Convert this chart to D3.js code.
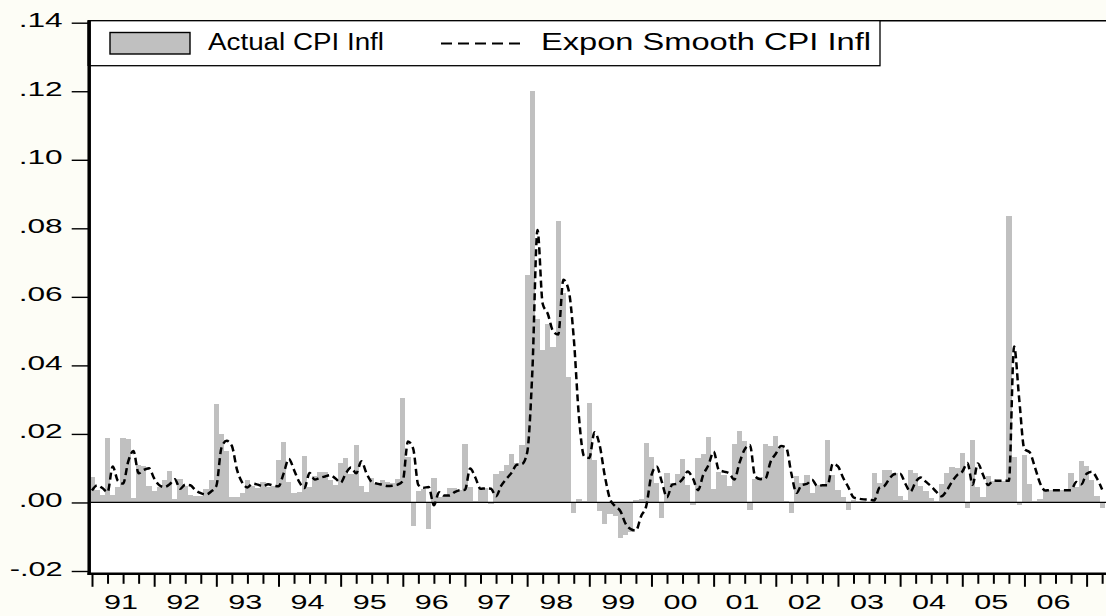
<!DOCTYPE html>
<html><head><meta charset="utf-8">
<script src="https://cdn.jsdelivr.net/npm/d3@7"></script>
<style>
html,body{margin:0;padding:0;background:#FDFDF6;}
svg{display:block;}
text{font-family:"Liberation Sans",Arial,sans-serif;fill:#000;}
</style></head><body>
<svg id="chart" width="1106" height="616"></svg>
<script>
// ---- data (monthly, 1991M1 .. 2007M4) ----
const yearLabels = ["91","92","93","94","95","96","97","98","99","00","01","02","03","04","05","06"];

const actualCPI = [
  // 1991
  0.0073,0.0035,0.0022,0.0187,0.0022,0.0046,0.0188,0.0185,0.0012,0.0108,0.0106,0.0048,
  // 1992
  0.0033,0.0045,0.0065,0.0091,0.0010,0.0069,0.0048,0.0023,0.0020,0.0018,0.0040,0.0067,
  // 1993
  0.0288,0.0201,0.0150,0.0015,0.0015,0.0028,0.0067,0.0048,0.0043,0.0060,0.0045,0.0048,
  // 1994
  0.0125,0.0176,0.0060,0.0028,0.0030,0.0137,0.0046,0.0077,0.0090,0.0090,0.0067,0.0052,
  // 1995
  0.0114,0.0130,0.0083,0.0169,0.0048,0.0030,0.0072,0.0057,0.0065,0.0061,0.0058,0.0068,
  // 1996
  0.0306,0.0134,-0.0068,0.0034,0.0039,-0.0076,0.0070,0.0015,0.0020,0.0042,0.0042,0.0037,
  // 1997
  0.0170,0.0044,0.0003,0.0042,0.0042,-0.0005,0.0083,0.0092,0.0108,0.0140,0.0115,0.0169,
  // 1998
  0.0665,0.1200,0.0535,0.0445,0.0522,0.0454,0.0820,0.0610,0.0367,-0.0030,0.0010,0.0003,
  // 1999
  0.0290,0.0125,-0.0024,-0.0063,-0.0034,-0.0040,-0.0105,-0.0095,-0.0087,0.0007,0.0010,0.0173,
  // 2000
  0.0133,0.0058,-0.0046,0.0087,0.0058,0.0083,0.0128,0.0050,-0.0007,0.0131,0.0141,0.0192,
  // 2001
  0.0040,0.0088,0.0080,0.0047,0.0170,0.0209,0.0180,-0.0021,0.0068,0.0073,0.0170,0.0165,
  // 2002
  0.0195,0.0160,0.0003,-0.0030,0.0078,0.0056,0.0080,0.0027,0.0051,0.0051,0.0183,0.0080,
  // 2003
  0.0035,0.0015,-0.0023,0.0008,0.0005,0.0005,0.0002,0.0085,0.0056,0.0095,0.0095,0.0085,
  // 2004
  0.0020,0.0008,0.0095,0.0085,0.0047,0.0032,0.0013,0.0003,0.0054,0.0087,0.0103,0.0102,
  // 2005
  0.0143,-0.0017,0.0183,0.0044,0.0017,0.0078,0.0063,0.0063,0.0063,0.0835,0.0133,-0.0008,
  // 2006
  0.0138,0.0055,0.0005,0.0010,0.0036,0.0036,0.0036,0.0036,0.0036,0.0087,0.0044,0.0120,
  // 2007
  0.0105,0.0065,0.0020,-0.0017
];

const smoothCPI = [
  // 1991
  0.0035,0.0050,0.0042,0.0030,0.0105,0.0063,0.0055,0.0120,0.0150,0.0085,0.0095,0.0100,
  // 1992
  0.0070,0.0050,0.0045,0.0053,0.0068,0.0040,0.0052,0.0050,0.0035,0.0027,0.0023,0.0032,
  // 1993
  0.0048,0.0160,0.0180,0.0165,0.0095,0.0058,0.0044,0.0055,0.0052,0.0047,0.0053,0.0049,
  // 1994
  0.0047,0.0085,0.0127,0.0095,0.0060,0.0042,0.0086,0.0067,0.0072,0.0076,0.0080,0.0070,
  // 1995
  0.0058,0.0085,0.0102,0.0085,0.0120,0.0085,0.0060,0.0055,0.0052,0.0048,0.0049,0.0052,
  // 1996
  0.0063,0.0178,0.0157,0.0051,0.0043,0.0045,-0.0008,0.0030,0.0020,0.0020,0.0030,0.0036,
  // 1997
  0.0037,0.0099,0.0073,0.0040,0.0041,0.0040,0.0018,0.0049,0.0069,0.0087,0.0110,0.0112,
  // 1998
  0.0145,0.0380,0.0795,0.0580,0.0550,0.0500,0.0490,0.0650,0.0620,0.0480,0.0250,0.0135,
  // 1999
  0.0130,0.0205,0.0167,0.0077,0.0010,-0.0011,-0.0025,-0.0062,-0.0078,-0.0082,-0.0040,-0.0010,
  // 2000
  0.0080,0.0105,0.0060,0.0015,0.0052,0.0055,0.0068,0.0090,0.0070,0.0036,0.0081,0.0109,
  // 2001
  0.0148,0.0095,0.0090,0.0085,0.0067,0.0116,0.0155,0.0168,0.0076,0.0068,0.0070,0.0119,
  // 2002
  0.0142,0.0165,0.0160,0.0085,0.0028,0.0051,0.0054,0.0066,0.0048,0.0050,0.0050,0.0113,
  // 2003
  0.0105,0.0072,0.0045,0.0015,0.0011,0.0009,0.0008,0.0006,0.0043,0.0049,0.0071,0.0083,
  // 2004
  0.0084,0.0055,0.0032,0.0060,0.0073,0.0060,0.0047,0.0031,0.0018,0.0035,0.0060,0.0080,
  // 2005
  0.0090,0.0115,0.0052,0.0114,0.0081,0.0051,0.0064,0.0063,0.0063,0.0063,0.0455,0.0300,
  // 2006
  0.0155,0.0147,0.0104,0.0057,0.0035,0.0036,0.0036,0.0036,0.0036,0.0036,0.0060,0.0053,
  // 2007
  0.0084,0.0090,0.0070,0.0038
];

const yTickValues = [-0.02,0.00,0.02,0.04,0.06,0.08,0.10,0.12,0.14];
const yTickLabels = ["-.02",".00",".02",".04",".06",".08",".10",".12",".14"];
const seriesNames = ["Actual CPI Infl","Expon Smooth CPI Infl"];

// ---- layout ----
const svg = d3.select("#chart");
const W = 1106, H = 616;
const axisX = 89.2, topY = 20.7, botY = 573.8;

const x = d3.scaleLinear().domain([0, 192]).range([92, 1086.6]);
const y = d3.scaleLinear().domain([-0.02, 0.14]).range([571, 22.7]);
const bw = x(1) - x(0);

// plot background
svg.append("rect").attr("x", axisX).attr("y", topY).attr("width", W - axisX + 20).attr("height", botY - topY).attr("fill", "#FFFFFF");

svg.append("clipPath").attr("id","pc").append("rect")
  .attr("x", axisX + 1.5).attr("y", topY).attr("width", W).attr("height", botY - topY - 1);

const plot = svg.append("g").attr("clip-path","url(#pc)");

// bars
plot.append("g").selectAll("rect").data(actualCPI).join("rect")
  .attr("x", (d,i) => x(i) - bw/2)
  .attr("width", bw + 0.05)
  .attr("y", d => y(Math.max(0,d)))
  .attr("height", d => Math.abs(y(d) - y(0)))
  .attr("fill", "#C0C0C0")
  .attr("shape-rendering","crispEdges");

// zero line
plot.append("line").attr("x1", axisX).attr("x2", W + 20).attr("y1", y(0)).attr("y2", y(0))
  .attr("stroke","#000").attr("stroke-width",1.3);

// smoothed line
const line = d3.line().x((d,i) => x(i)).y(d => y(d)).curve(d3.curveMonotoneX);
plot.append("path").datum(smoothCPI).attr("d", line)
  .attr("fill","none").attr("stroke","#000").attr("stroke-width",2.5)
  .attr("stroke-dasharray","7,4");

// y axis
const yAxis = d3.axisLeft(y).tickValues(yTickValues).tickSize(17.5).tickPadding(9)
  .tickFormat((d,i) => yTickLabels[i]);
const gy = svg.append("g").attr("transform", `translate(${axisX},0)`).call(yAxis);
gy.select(".domain").remove();
gy.selectAll(".tick line").attr("stroke","#000").attr("stroke-width",1.4);
gy.selectAll(".tick text").attr("font-size",20).attr("dy","0.2em")
  .attr("font-family",'"Liberation Sans",Arial,sans-serif')
  .attr("textLength", (d,i) => yTickLabels[i].length > 3 ? 53 : 44)
  .attr("lengthAdjust","spacingAndGlyphs");

// x axis: major (year) ticks
const majorTicks = d3.range(0, 193, 12);
const minorTicks = d3.range(0, 196, 3).filter(t => t % 12 !== 0);
const gxMaj = svg.append("g").attr("transform", `translate(0,${botY})`)
  .call(d3.axisBottom(x).tickValues(majorTicks).tickSize(13).tickFormat(""));
gxMaj.select(".domain").remove();
gxMaj.selectAll(".tick line").attr("stroke","#000").attr("stroke-width",2);
const gxMin = svg.append("g").attr("transform", `translate(0,${botY})`)
  .call(d3.axisBottom(x).tickValues(minorTicks).tickSize(10).tickFormat(""));
gxMin.select(".domain").remove();
gxMin.selectAll(".tick line").attr("stroke","#000").attr("stroke-width",2);

// year labels
const labelPos = yearLabels.map((d,i) => i*12 + 5.5);
const gxLab = svg.append("g").attr("transform", `translate(0,${botY})`)
  .call(d3.axisBottom(x).tickValues(labelPos).tickSize(0).tickPadding(21)
    .tickFormat((d,i) => yearLabels[i]));
gxLab.select(".domain").remove();
gxLab.selectAll(".tick text").attr("font-size",20)
  .attr("font-family",'"Liberation Sans",Arial,sans-serif')
  .attr("textLength",34).attr("lengthAdjust","spacingAndGlyphs");

// frame
svg.append("line").attr("x1",axisX).attr("x2",W+20).attr("y1",topY).attr("y2",topY)
  .attr("stroke","#000").attr("stroke-width",1.5);
svg.append("line").attr("x1",axisX-1.7).attr("x2",W+20).attr("y1",botY).attr("y2",botY)
  .attr("stroke","#000").attr("stroke-width",2.6);
svg.append("line").attr("x1",axisX).attr("x2",axisX).attr("y1",topY-0.7).attr("y2",botY+1.3)
  .attr("stroke","#000").attr("stroke-width",3.5);

// legend
const lg = svg.append("g");
lg.append("rect").attr("x",axisX).attr("y",topY).attr("width",880-axisX).attr("height",65.7-topY)
  .attr("fill","#FFFFFF").attr("stroke","#000").attr("stroke-width",1.3);
lg.append("line").attr("x1",axisX).attr("x2",axisX).attr("y1",topY).attr("y2",66)
  .attr("stroke","#000").attr("stroke-width",3.5);
lg.append("rect").attr("x",110).attr("y",32.5).attr("width",80).attr("height",21.5)
  .attr("fill","#C0C0C0").attr("stroke","#000").attr("stroke-width",1.4);
lg.append("text").attr("x",208).attr("y",50).attr("font-size",23)
  .attr("textLength",176).attr("lengthAdjust","spacingAndGlyphs").text(seriesNames[0]);
lg.append("line").attr("x1",441).attr("x2",522).attr("y1",43.5).attr("y2",43.5)
  .attr("stroke","#000").attr("stroke-width",2).attr("stroke-dasharray","11,6");
lg.append("text").attr("x",541).attr("y",50).attr("font-size",23)
  .attr("textLength",330).attr("lengthAdjust","spacingAndGlyphs").text(seriesNames[1]);
</script>
</body></html>
